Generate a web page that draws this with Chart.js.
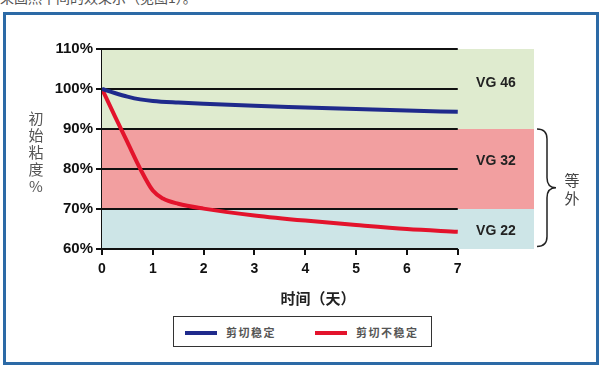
<!DOCTYPE html>
<html>
<head>
<meta charset="utf-8">
<script src="https://cdn.jsdelivr.net/npm/chart.js@4.4.1/dist/chart.umd.min.js"></script>
<style>
    html, body { margin: 0; padding: 0; background: #fff; }
    #wrap { position: relative; width: 600px; height: 369px; overflow: hidden; }
    #topText { position: absolute; left: 0; top: -13px; font: 14px "Noto Sans CJK SC"; color: #555; white-space: nowrap; }
    #frame { position: absolute; left: 3px; top: 12px; width: 590px; height: 347px; border: 3px solid #2c6aa6; }
    #chartBox { position: absolute; left: 0; top: 0; width: 600px; height: 369px; }
    #legend { position: absolute; left: 173px; top: 316px; width: 257px; height: 29px; border: 1.5px solid #333; background: #fff; }
    .item { position: absolute; top: 7px; font: bold 11px "Noto Sans CJK SC"; color: #555; letter-spacing: 1.5px; }
    .swatch { display: inline-block; width: 32px; height: 4px; vertical-align: middle; margin-right: 9px; position: relative; top: -1px; }
</style>
</head>
<body>
<div id="wrap">
    <div id="topText">来固然平间的效果示（见图1）。</div>
    <div id="frame"></div>
    <div id="chartBox"><canvas id="grafico"></canvas></div>
    <div id="legend"></div>
</div>
<script>
// datos
const stableDays = [0, 0.25, 0.5, 0.75, 1, 1.5, 2, 3, 4, 5, 6, 7];
const stableVisc = [100, 99, 98.1, 97.4, 97, 96.6, 96.3, 95.8, 95.4, 95, 94.6, 94.3];
const unstableDays = [0, 0.25, 0.5, 0.75, 1, 1.2, 1.5, 2, 3, 4, 5, 6, 7];
const unstableVisc = [100, 93.3, 86.7, 80.1, 74.6, 72.6, 71.3, 70.1, 68.4, 67.1, 66, 65, 64.3];
const seriesNames = ['剪切稳定', '剪切不稳定'];
const yTicks = [60, 70, 80, 90, 100, 110];
const xTicks = [0, 1, 2, 3, 4, 5, 6, 7];
const bandNames = ['VG 46', 'VG 32', 'VG 22'];
const bandTop = [110, 90, 70];
const bandBottom = [90, 70, 60];
const bandLabelAt = [101.5, 82, 64.5];

const bandColors = ['#dfebcf', '#f29fa0', '#cde5e7'];

function pts(xs, ys) {
    return xs.map((x, i) => ({ x: x, y: ys[i] }));
}

const fondo = {
    id: 'fondo',
    beforeDatasetsDraw(chart) {
        const { ctx, chartArea, scales: { x, y } } = chart;
        ctx.save();
        bandNames.forEach((n, i) => {
            const t = y.getPixelForValue(bandTop[i]);
            const b = y.getPixelForValue(bandBottom[i]);
            ctx.fillStyle = bandColors[i];
            ctx.fillRect(chartArea.left, t, chartArea.right - chartArea.left, b - t);
        });
        // lineas horizontales solo hasta el dia 7
        ctx.strokeStyle = '#111';
        ctx.lineWidth = 2;
        yTicks.forEach(v => {
            const py = Math.round(y.getPixelForValue(v));
            ctx.beginPath();
            ctx.moveTo(x.getPixelForValue(0), py);
            ctx.lineTo(x.getPixelForValue(7), py);
            ctx.stroke();
        });
        ctx.restore();
    },
    afterDraw(chart) {
        const { ctx, scales: { x, y } } = chart;
        ctx.save();
        ctx.fillStyle = '#222';
        ctx.font = 'bold 14px "Liberation Sans", Arial';
        ctx.textAlign = 'center';
        ctx.textBaseline = 'middle';
        bandNames.forEach((n, i) => {
            ctx.fillText(n, x.getPixelForValue(7.75), y.getPixelForValue(bandLabelAt[i]));
        });

        // llave
        const bx = x.getPixelForValue(8.5) + 3;
        const top = y.getPixelForValue(90);
        const bot = y.getPixelForValue(60.6);
        const mid = (top + bot) / 2;
        const w = 10;
        ctx.strokeStyle = '#222';
        ctx.lineWidth = 1.5;
        ctx.beginPath();
        ctx.moveTo(bx, top);
        ctx.quadraticCurveTo(bx + w, top, bx + w, top + 10);
        ctx.lineTo(bx + w, mid - 10);
        ctx.quadraticCurveTo(bx + w, mid, bx + w + 9, mid);
        ctx.quadraticCurveTo(bx + w, mid, bx + w, mid + 10);
        ctx.lineTo(bx + w, bot - 10);
        ctx.quadraticCurveTo(bx + w, bot, bx, bot);
        ctx.stroke();

        ctx.fillStyle = '#444';
        ctx.font = '15px "Noto Sans CJK SC"';
        ctx.fillText('等', 572, mid - 8);
        ctx.fillText('外', 572, mid + 10);

        // titulo eje y, vertical
        ctx.fillStyle = '#555';
        ctx.font = '15px "Noto Sans CJK SC"';
        ['初', '始', '粘', '度', '%'].forEach((c, i) => {
            ctx.fillText(c, 36, 118 + i * 17);
        });

        // eje x hasta 7
        ctx.strokeStyle = '#111';
        ctx.lineWidth = 2;
        const py = Math.round(y.getPixelForValue(60));
        ctx.beginPath();
        ctx.moveTo(x.getPixelForValue(0), py);
        ctx.lineTo(x.getPixelForValue(7), py);
        ctx.stroke();
        ctx.restore();
    }
};

const ctx = document.getElementById('grafico').getContext('2d');
const chart = new Chart(ctx, {
    type: 'line',
    data: {
        datasets: [{
            label: seriesNames[0],
            data: pts(stableDays, stableVisc),
            borderColor: '#1f2a8c',
            borderWidth: 4,
            pointRadius: 0,
            cubicInterpolationMode: 'monotone'
        }, {
            label: seriesNames[1],
            data: pts(unstableDays, unstableVisc),
            borderColor: '#e3132c',
            borderWidth: 4,
            pointRadius: 0,
            cubicInterpolationMode: 'monotone'
        }]
    },
    options: {
        responsive: true,
        maintainAspectRatio: false,
        animation: false,
        layout: { padding: { left: 0, right: 66, top: 49, bottom: 0 } },
        plugins: {
            legend: { display: false },
            tooltip: { enabled: false }
        },
        scales: {
            x: {
                type: 'linear',
                min: 0,
                max: 8.5,
                afterFit(scale) { scale.height = 120; },
                afterBuildTicks(scale) { scale.ticks = xTicks.map(v => ({ value: v })); },
                border: { display: false },
                grid: { drawOnChartArea: false, color: '#111', lineWidth: 2, tickLength: 6 },
                ticks: {
                    color: '#111',
                    padding: 6,
                    maxRotation: 0,
                    font: { family: '"Liberation Sans", Arial', size: 14, weight: 'bold' }
                },
                title: {
                    display: true,
                    text: '时间（天）',
                    color: '#222',
                    padding: { top: 0, bottom: 62 },
                    font: { family: '"Noto Sans CJK SC"', size: 15, weight: 'bold' }
                }
            },
            y: {
                min: 60,
                max: 110,
                afterFit(scale) { scale.width = 102; },
                afterBuildTicks(scale) { scale.ticks = yTicks.map(v => ({ value: v })); },
                border: { display: true, color: '#111', width: 2 },
                grid: { drawOnChartArea: false, color: '#111', lineWidth: 2, tickLength: 6 },
                ticks: {
                    color: '#111',
                    padding: 3,
                    font: { family: '"Liberation Sans", Arial', size: 15, weight: 'bold' },
                    callback: v => v + '%'
                }
            }
        }
    },
    plugins: [fondo]
});

// leyenda html con los colores de las series
const leg = document.getElementById('legend');
const lefts = [11, 141];
chart.data.datasets.forEach((ds, i) => {
    const it = document.createElement('div');
    it.className = 'item';
    it.style.left = lefts[i] + 'px';
    it.innerHTML = '<span class="swatch" style="background:' + ds.borderColor + '"></span>' + ds.label;
    leg.appendChild(it);
});
</script>
</body>
</html>
